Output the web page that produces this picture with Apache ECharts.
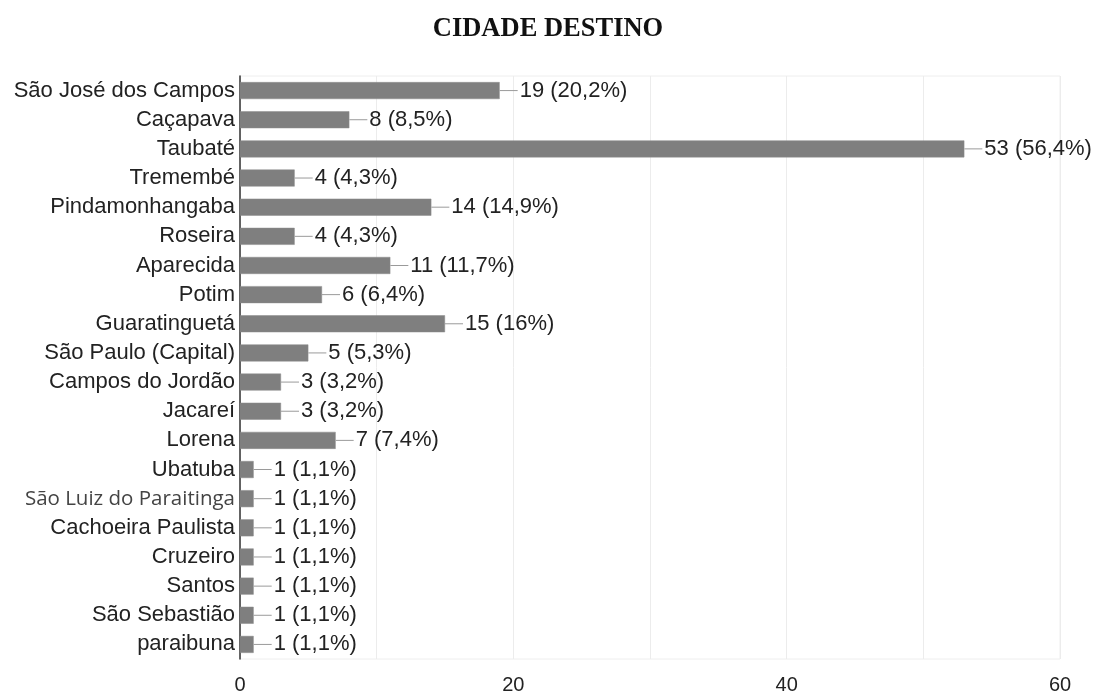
<!DOCTYPE html>
<html>
<head>
<meta charset="utf-8">
<script src="https://cdn.jsdelivr.net/npm/echarts@6/dist/echarts.min.js"></script>
<style>
  html, body { margin: 0; padding: 0; background: #fff; }
  #chart { width: 1096px; height: 695px; }
</style>
</head>
<body>
<div id="chart"></div>
<script>
// Destination cities and number of answers
const cities = [
  'São José dos Campos', 'Caçapava', 'Taubaté', 'Tremembé', 'Pindamonhangaba',
  'Roseira', 'Aparecida', 'Potim', 'Guaratinguetá', 'São Paulo (Capital)',
  'Campos do Jordão', 'Jacareí', 'Lorena', 'Ubatuba', 'São Luiz do Paraitinga',
  'Cachoeira Paulista', 'Cruzeiro', 'Santos', 'São Sebastião', 'paraibuna'
];
const counts = [19, 8, 53, 4, 14, 4, 11, 6, 15, 5, 3, 3, 7, 1, 1, 1, 1, 1, 1, 1];
const percents = [
  '20,2%', '8,5%', '56,4%', '4,3%', '14,9%', '4,3%', '11,7%', '6,4%', '16%', '5,3%',
  '3,2%', '3,2%', '7,4%', '1,1%', '1,1%', '1,1%', '1,1%', '1,1%', '1,1%', '1,1%'
];
const xTicks = [0, 20, 40, 60];

const chart = echarts.init(document.getElementById('chart'));
chart.setOption({
  animation: false,
  backgroundColor: '#ffffff',
  title: {
    text: 'CIDADE DESTINO',
    left: 'center',
    top: 11,
    textStyle: {
      fontFamily: '"Liberation Serif", serif',
      fontWeight: 'bold',
      fontSize: 26.5,
      color: '#111'
    }
  },
  grid: {
    left: 240, right: 36, top: 76, bottom: 35,
    show: true, borderColor: '#eeeeee', borderWidth: 1
  },
  xAxis: {
    type: 'value',
    min: 0, max: 60, interval: 10,
    axisLine: { show: false },
    axisTick: { show: false },
    splitLine: { show: true, lineStyle: { color: '#ececec', width: 1 } },
    axisLabel: {
      margin: 16,
      fontFamily: '"Liberation Sans", Arial, sans-serif',
      fontSize: 20,
      color: '#222',
      formatter: v => (xTicks.indexOf(v) >= 0 ? String(v) : '')
    }
  },
  yAxis: {
    type: 'category',
    data: cities,
    inverse: true,
    axisLine: { show: true, lineStyle: { color: '#333', width: 1.5 } },
    axisTick: { show: false },
    axisLabel: {
      margin: 5,
      fontFamily: '"Liberation Sans", Arial, sans-serif',
      fontSize: 22,
      color: '#222',
      formatter: v => (v === 'São Luiz do Paraitinga' ? '{alt|' + v + '}' : v),
      rich: {
        alt: {
          fontFamily: '"Open Sans", sans-serif',
          fontSize: 20.5,
          color: '#444'
        }
      }
    }
  },
  series: [{
    type: 'bar',
    data: counts,
    barWidth: 17,
    itemStyle: { color: '#7f7f7f', borderColor: '#8c8c8c', borderWidth: 0.5 },
    label: {
      show: true,
      position: 'right',
      distance: 0,
      formatter: p => '{ln|}{t|' + p.value + ' (' + percents[p.dataIndex] + ')}',
      rich: {
        ln: { width: 18, height: 1, backgroundColor: '#9a9a9a' },
        t: {
          padding: [0, 0, 0, 2],
          fontFamily: '"Liberation Sans", Arial, sans-serif',
          fontSize: 22,
          color: '#222'
        }
      }
    }
  }]
});
</script>
</body>
</html>
